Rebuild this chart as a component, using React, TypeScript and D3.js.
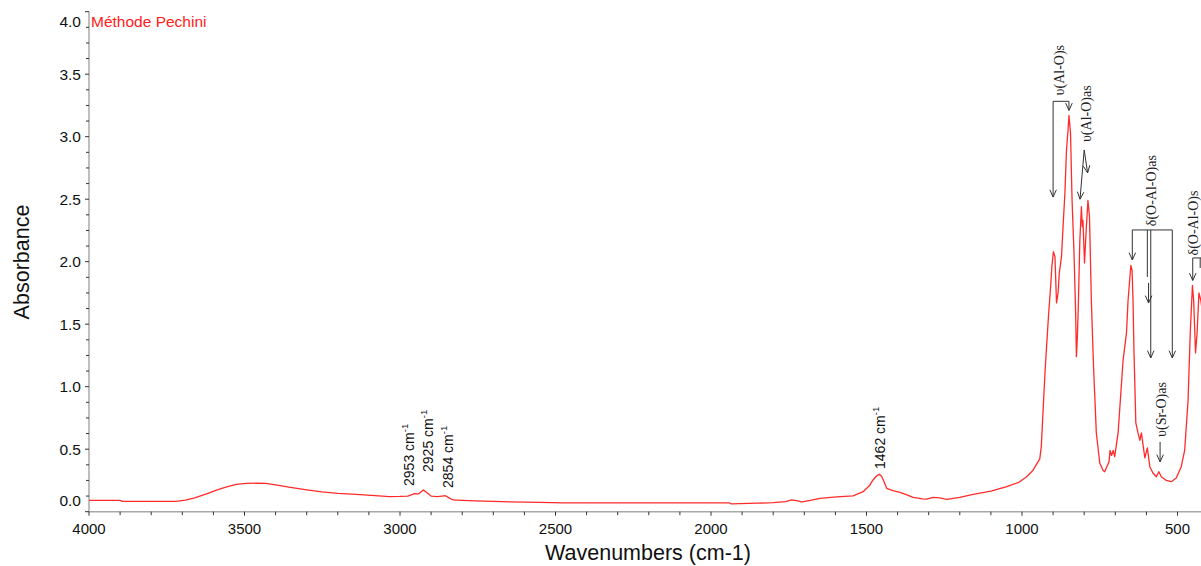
import React from 'react';
import * as d3 from 'd3';

// ---- Spectrum data (wavenumber cm-1, absorbance) ----
const wavenumbers = [
  4000, 3900, 3893, 3800, 3720, 3690, 3660, 3620, 3590, 3560, 3527, 3495, 3460, 3431, 3400, 3357, 3300,
  3251, 3200, 3141, 3080, 3035, 3000, 2975, 2960, 2953, 2940, 2925, 2915, 2900, 2880, 2865, 2854, 2845,
  2830, 2800, 2760, 2700, 2646, 2550, 2476, 2300, 2100, 1940, 1935, 1907, 1850, 1800, 1760, 1741, 1725,
  1708, 1680, 1650, 1596, 1543, 1511, 1490, 1479, 1466, 1459, 1452, 1446, 1435, 1415, 1392, 1370, 1350,
  1320, 1306, 1286, 1265, 1242, 1200, 1157, 1100, 1049, 1010, 985, 965, 953, 943, 938, 932, 925, 915,
  908, 904, 899, 894, 889, 884, 880, 873, 868, 862, 857, 852, 849, 844, 839, 833, 828, 825, 822, 819, 814,
  809, 806, 804, 799, 793, 788, 783, 777, 770, 761, 750, 739, 734, 729, 720, 717, 712, 707, 702, 691,
  680, 675, 664, 659, 650, 646, 643, 640, 634, 627, 621, 616, 610, 605, 597, 589, 579, 568, 560, 552,
  536, 520, 504, 488, 477, 466, 459, 452, 448, 442, 437, 431, 425, 420,
];
const absorbance = [
  0.091, 0.091, 0.083, 0.083, 0.083, 0.092, 0.11, 0.145, 0.172, 0.197, 0.218, 0.227, 0.228, 0.226, 0.215, 0.196, 0.175,
  0.158, 0.147, 0.139, 0.128, 0.12, 0.122, 0.125, 0.138, 0.145, 0.143, 0.174, 0.155, 0.125, 0.12, 0.125, 0.128, 0.115,
  0.094, 0.09, 0.086, 0.082, 0.078, 0.074, 0.07, 0.07, 0.07, 0.07, 0.062, 0.064, 0.068, 0.072, 0.08, 0.094, 0.088,
  0.078, 0.09, 0.107, 0.118, 0.126, 0.16, 0.21, 0.254, 0.29, 0.3, 0.285, 0.254, 0.187, 0.168, 0.155, 0.135, 0.115,
  0.103, 0.1, 0.115, 0.11, 0.099, 0.115, 0.139, 0.165, 0.2, 0.235, 0.28, 0.33, 0.38, 0.42, 0.52, 0.82, 1.16, 1.56,
  1.8, 1.96, 2.08, 2.04, 1.67, 1.75, 1.91, 2.04, 2.28, 2.55, 2.89, 3.05, 3.17, 3.03, 2.49, 2.09, 1.64, 1.24, 1.4, 1.64, 2.17,
  2.44, 2.28, 2.33, 1.99, 2.28, 2.49, 2.36, 1.69, 1.16, 0.63, 0.39, 0.33, 0.32, 0.35, 0.4, 0.49, 0.45, 0.49, 0.44, 0.63,
  1.03, 1.21, 1.43, 1.69, 1.97, 1.93, 1.69, 1.29, 0.71, 0.63, 0.57, 0.63, 0.52, 0.43, 0.51, 0.36, 0.31, 0.28, 0.32, 0.28,
  0.25, 0.24, 0.27, 0.36, 0.49, 0.89, 1.43, 1.81, 1.69, 1.27, 1.43, 1.75, 1.69, 1.6,
];

// ---- Axis ticks ----
const xMajorTicks = [4000, 3500, 3000, 2500, 2000, 1500, 1000, 500];
const xMinorTicks = d3.range(3900, 499, -100).filter((v) => v % 500 !== 0);
const yMajorTicks = [0, 0.5, 1, 1.5, 2, 2.5, 3, 3.5, 4];
const yMinorTicks = d3.range(0.125, 4, 0.125).filter((v) => Math.abs(v * 2 - Math.round(v * 2)) > 1e-6);

// ---- Peak labels (text, anchor wavenumber, anchor absorbance) ----
const peakTexts = ['2953', '2925', '2854', '1462'];
const peakLabelWn = [2972, 2911, 2845, 1457];
const peakLabelA = [0.206, 0.318, 0.19, 0.342];

// ---- Band assignment labels ----
const bandTexts = ['υ(Al-O)s', 'υ(Al-O)as', 'δ(O-Al-O)as', 'υ(Sr-O)as', 'δ(O-Al-O)s'];
const bandLabelWn = [878, 794, 582, 553, 450];
const bandLabelA = [3.33, 2.957, 2.284, 0.598, 2.05];

// ---- Annotation segments: [wn1, A1, wn2, A2, arrowhead] ----
const annotationSegments: [number, number, number, number, boolean][] = [
  [900, 3.283, 849, 3.283, false],
  [900, 3.283, 900, 2.517, true],
  [849, 3.283, 849, 3.21, true],
  [800, 2.894, 813.5, 2.5, true],
  [800, 2.894, 789, 2.71, true],
  [645.3, 2.254, 516.7, 2.254, false],
  [645.3, 2.254, 645.3, 2.014, true],
  [597, 2.254, 597, 1.878, false],
  [586, 2.254, 586, 1.23, true],
  [593, 1.83, 593, 1.67, true],
  [516.7, 2.254, 516.7, 1.23, true],
  [556, 0.558, 556, 0.398, true],
  [451, 2.03, 415, 2.03, false],
  [451, 2.03, 451, 1.85, true],
  [427, 2.03, 427, 1.95, false],
];

const W = 1201;
const H = 566;
const SANS = "'Liberation Sans', Arial, sans-serif";
const SERIF = "'Liberation Serif', 'Times New Roman', serif";

export default function App() {
  const x = d3.scaleLinear().domain([4000, 400]).range([89, 1208.6]);
  const y = d3.scaleLinear().domain([0, 4]).range([511.7, 11.7]);
  const axisY = y(0);
  const pts: [number, number][] = wavenumbers.map((w, i) => [w, absorbance[i]]);
  const line = d3
    .line<[number, number]>()
    .x((d) => x(d[0]))
    .y((d) => y(d[1]));

  const arrowHead = (x1: number, y1: number, x2: number, y2: number) => {
    const a = Math.atan2(y2 - y1, x2 - x1);
    const L = 8;
    const phi = 0.42;
    const p1 = [x2 - L * Math.cos(a - phi), y2 - L * Math.sin(a - phi)];
    const p2 = [x2 - L * Math.cos(a + phi), y2 - L * Math.sin(a + phi)];
    return `M${p1[0]},${p1[1]}L${x2},${y2}L${p2[0]},${p2[1]}`;
  };

  return (
    <svg
      width={W}
      height={H}
      style={{ position: 'absolute', left: 0, top: 0, background: '#fff' }}
    >
      <rect x={0} y={0} width={W} height={H} fill="#fff" />
      {/* axes */}
      <line x1={89} y1={y(4)} x2={89} y2={axisY} stroke="#a8a8a8" strokeWidth={1.5} />
      <line x1={89} y1={axisY} x2={W} y2={axisY} stroke="#a8a8a8" strokeWidth={1.5} />
      {xMajorTicks.map((t) => (
        <g key={'xM' + t}>
          <line x1={x(t)} x2={x(t)} y1={axisY} y2={axisY + 4} stroke="#333" />
          <text
            x={x(t)}
            y={534}
            textAnchor="middle"
            fontFamily={SANS}
            fontSize={15}
            fill="#111"
          >
            {t}
          </text>
        </g>
      ))}
      {xMinorTicks.map((t) => (
        <line key={'xm' + t} x1={x(t)} x2={x(t)} y1={axisY} y2={axisY + 3.5} stroke="#333" />
      ))}
      {yMajorTicks.map((t) => (
        <g key={'yM' + t}>
          <line x1={85} x2={89} y1={y(t)} y2={y(t)} stroke="#333" />
          <text
            x={81}
            y={Math.min(500.5, Math.max(21, y(t)))}
            textAnchor="end"
            dominantBaseline="central"
            fontFamily={SANS}
            fontSize={15.5}
            fill="#111"
          >
            {t.toFixed(1)}
          </text>
        </g>
      ))}
      {yMinorTicks.map((t) => (
        <line key={'ym' + t} x1={86} x2={89} y1={y(t)} y2={y(t)} stroke="#333" />
      ))}
      <text
        x={648}
        y={560}
        textAnchor="middle"
        fontFamily={SANS}
        fontSize={21.5}
        fill="#111"
      >
        Wavenumbers (cm-1)
      </text>
      <text
        transform={`translate(22,262) rotate(-90)`}
        textAnchor="middle"
        dominantBaseline="central"
        fontFamily={SANS}
        fontSize={21.5}
        fill="#111"
      >
        Absorbance
      </text>

      {/* spectrum */}
      <path d={line(pts) || ''} fill="none" stroke="#ff2b2b" strokeWidth={1.3} strokeLinejoin="round" />

      <text x={91} y={26.5} fontFamily={SANS} fontSize={15.5} fill="#ff2020">
        Méthode Pechini
      </text>

      {/* peak labels */}
      {peakTexts.map((t, i) => (
        <text
          key={'pk' + t}
          transform={`translate(${x(peakLabelWn[i])},${y(peakLabelA[i])}) rotate(-90)`}
          dominantBaseline="central"
          fontFamily={SANS}
          fontSize={14}
          fill="#111"
        >
          {t} cm
          <tspan fontSize={9.5} dy={-5}>
            -1
          </tspan>
        </text>
      ))}

      {/* band annotations */}
      {bandTexts.map((t, i) => (
        <text
          key={'bd' + i}
          transform={`translate(${x(bandLabelWn[i])},${y(bandLabelA[i])}) rotate(-90)`}
          dominantBaseline="central"
          fontFamily={SERIF}
          fontSize={14}
          fill="#222"
        >
          {t}
        </text>
      ))}
      {annotationSegments.map((s, i) => {
        const x1 = x(s[0]);
        const y1 = y(s[1]);
        const x2 = x(s[2]);
        const y2 = y(s[3]);
        return (
          <g key={'seg' + i} stroke="#333" strokeWidth={1} fill="none">
            <line x1={x1} y1={y1} x2={x2} y2={y2} />
            {s[4] && <path d={arrowHead(x1, y1, x2, y2)} />}
          </g>
        );
      })}
    </svg>
  );
}
